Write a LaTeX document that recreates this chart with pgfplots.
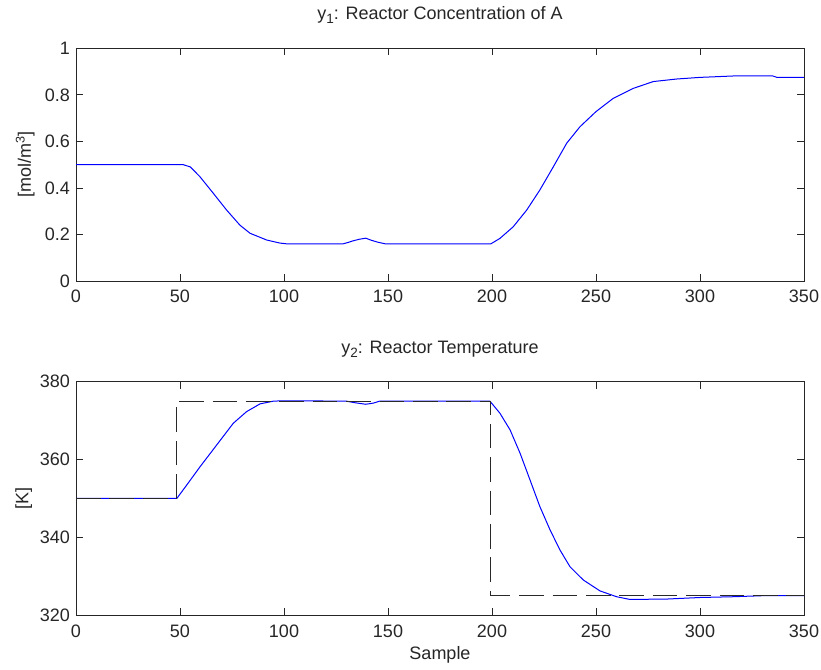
\documentclass[border=0pt]{standalone}
\usepackage{fontspec}
\setmainfont{Liberation Sans}
\usepackage{pgfplots}
\pgfplotsset{compat=1.18}
\definecolor{axgray}{RGB}{38,38,38}
\definecolor{mblue}{RGB}{0,0,255}
\definecolor{dgray}{RGB}{40,40,40}
\newcommand{\lblfont}{\fontsize{18}{21}\selectfont}
\newcommand{\sub}[1]{\raisebox{-4pt}{\fontsize{13.5}{15}\selectfont #1}}
\begin{document}
\begin{tikzpicture}
\useasboundingbox (0,0) rectangle (821pt,669pt);
\pgfplotsset{
  every axis/.append style={
    width=728pt, scale only axis,
    xmin=0, xmax=350,
    xtick={0,50,...,350},
    tick align=inside,
    minor tick num=0,
    major tick length=7pt,
    axis line style={axgray, line width=0.8pt},
    every tick/.style={axgray, line width=0.8pt},
    /pgf/number format/assume math mode=true,
    /pgf/number format/fixed,
    tick label style={font=\lblfont, text=axgray, inner sep=0pt},
    xticklabel style={anchor=base, yshift=-22pt},
    yticklabel style={anchor=east, xshift=-6pt},
    title style={font=\lblfont, text=axgray, at={(rel axis cs:0.5,1)}, anchor=base, yshift=22.5pt, inner sep=0pt},
    label style={font=\lblfont, text=axgray, inner sep=0pt},
  }
}
% top axis
\begin{axis}[
  at={(76pt,388pt)}, anchor=south west,
  height=232.7pt,
  ymin=0, ymax=1,
  ytick={0,0.2,...,1},
  title={y\sub{1}: Reactor Concentration of A},
  ylabel={[mol/m\textsuperscript{3}]},
  ylabel style={at={([xshift=-45pt]rel axis cs:0,0.5)}, anchor=base},
]
\addplot[mblue, line width=1pt] coordinates {
(0,0.5) (51.5,0.5) (55,0.49) (59.6,0.448) (66,0.377) (72.4,0.305) (78.8,0.24)
(83.7,0.205) (91.7,0.176) (98,0.163) (101,0.16) (128.5,0.16) (131,0.166) (133,0.172)
(136,0.179) (139.3,0.184) (142,0.175) (145,0.167) (148.5,0.16) (199.5,0.16)
(203.8,0.183) (210.2,0.233) (216.7,0.305) (223,0.391) (229.5,0.491) (235.9,0.592)
(242.3,0.663) (250,0.728) (258.3,0.785) (268,0.828) (277.5,0.857) (288.8,0.868)
(300,0.875) (316,0.881) (335,0.881) (337,0.875) (350,0.875)
};
\end{axis}
% bottom axis
\begin{axis}[
  at={(76pt,54pt)}, anchor=south west,
  height=233.3pt,
  ymin=320, ymax=380,
  ytick={320,340,...,380},
  title={y\sub{2}: Reactor Temperature},
  ylabel={[K]},
  ylabel style={at={([xshift=-47.5pt]rel axis cs:0,0.5)}, anchor=base},
  xlabel={Sample},
  xlabel style={at={(rel axis cs:0.5,0)}, anchor=base, yshift=-44pt},
]
\addplot[mblue, line width=1pt] coordinates {
(0,350) (48.5,350) (53.2,353.4) (59.6,358.1) (67.6,363.7) (75.6,369.3) (82,372.3)
(88.5,374.3) (94.9,375) (100,375.1) (130,375) (134,374.6) (139.3,374.2) (143,374.5)
(146,375) (199,375) (203.8,371.9) (208.7,367.6) (213.5,361.6) (218.3,354.7)
(223,347.9) (227.9,341.9) (232.7,336.7) (237.5,332.4) (243.9,329) (251.9,326.2)
(259.9,324.7) (266.3,324) (284,324.1) (300,324.5) (316,324.7) (332,325) (350,325)
};
\addplot[dgray, line width=1.1pt, dash pattern=on 24.7pt off 8.7pt] coordinates {
(0,350) (48.4,350) (48.4,375) (199.3,375) (199.3,325) (350,325)
};
\end{axis}
\end{tikzpicture}
\end{document}
